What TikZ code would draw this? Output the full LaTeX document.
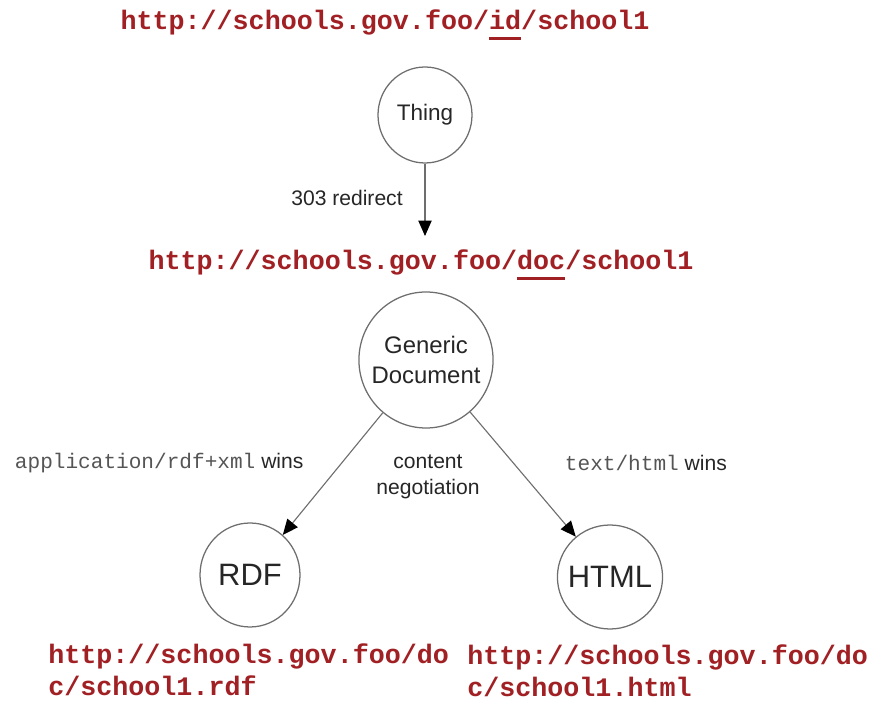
\documentclass[tikz,border=0pt]{standalone}
\usepackage{fontspec}
\setmainfont{Liberation Sans}
\setmonofont{Liberation Mono}
\usetikzlibrary{arrows.meta,shapes.geometric}
\definecolor{urlred}{RGB}{160,32,36}
\definecolor{edgegray}{RGB}{110,110,110}
\definecolor{mimegray}{RGB}{85,85,85}
% Unterstreichung eines URI-Teils
\newcommand{\segline}[1]{\leavevmode\setbox0=\hbox{#1}\rlap{\rule[-7pt]{\wd0}{1.8pt}}\box0}

\begin{document}
\begin{tikzpicture}[
    resource/.style={ellipse, draw=edgegray, line width=0.9pt, inner sep=0pt, text=black!85},
    uri/.style={font=\fontsize{19}{22.8}\selectfont\ttfamily\bfseries, text=urlred},
    elabel/.style={font=\fontsize{15}{19}\selectfont, text=black!85},
    link/.style={draw=edgegray, line width=0.8pt, -{Triangle[length=11pt,width=9.5pt,color=black]}}
]
\useasboundingbox (0,0) rectangle (21.725,17.575);

% URI der Sache
\node[uri, anchor=base] (url-id) at (9.625,16.825) {http://schools.gov.foo/\segline{id}/school1};
\node[resource, minimum width=2.35cm, minimum height=2.4cm, font=\fontsize{16}{18}\selectfont] (thing) at (10.625,14.7) {Thing};
\coordinate (redirect-end) at (10.625,11.675);
\draw[link] (thing) -- (redirect-end);
\node[elabel] (redirect) at (8.675,12.625) {303 redirect};

% URI des generischen Dokuments
\node[uri, anchor=base] (url-doc) at (10.525,10.825) {http://schools.gov.foo/\segline{doc}/school1};
\node[resource, minimum height=3.4cm, inner xsep=-5pt, align=center, font=\fontsize{17}{21}\selectfont] (generic) at (10.65,8.575) {Generic\\Document};

% Darstellungen
\node[resource, minimum width=2.5cm, minimum height=2.6cm, font=\fontsize{22}{24}\selectfont] (rdf) at (6.25,3.2) {RDF};
\node[resource, minimum height=2.6cm, inner xsep=-3.5pt, font=\fontsize{22}{24}\selectfont] (html) at (15.25,3.15) {HTML};
\draw[link] (generic) -- (rdf);
\draw[link] (generic) -- (html);

% Beschriftung der Kanten
\node[elabel, anchor=west] (rdf-wins) at (0.25,6.0) {{\color{mimegray}\ttfamily application/rdf+xml} wins};
\node[elabel, align=center] (conneg) at (10.7,5.65) {content\\negotiation};
\node[elabel, anchor=west] (html-wins) at (14.0,6.0) {{\color{mimegray}\ttfamily text/html} wins};

% URIs der Darstellungen
\node[uri, anchor=north west, align=left, inner sep=0pt] (url-rdf) at (1.2,1.5) {http://schools.gov.foo/do\\c/school1.rdf};
\node[uri, anchor=north west, align=left, inner sep=0pt] (url-html) at (11.675,1.475) {http://schools.gov.foo/do\\c/school1.html};
\end{tikzpicture}
\end{document}
